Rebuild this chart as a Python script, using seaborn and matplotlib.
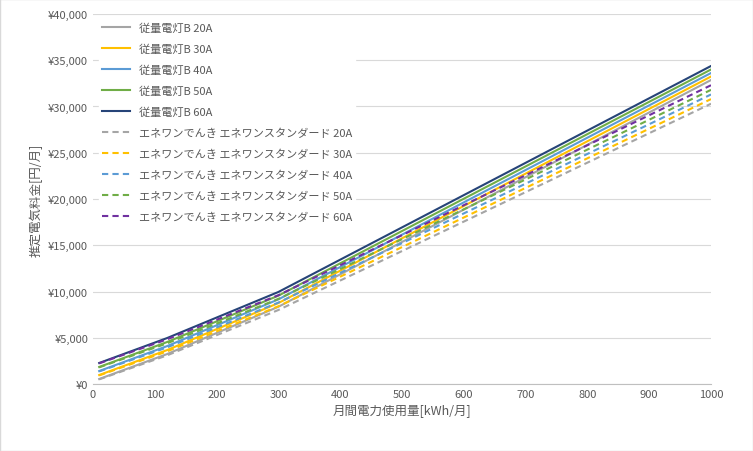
import matplotlib
matplotlib.use("Agg")
import matplotlib.pyplot as plt
import seaborn as sns
import pandas as pd
from matplotlib.ticker import FuncFormatter

plt.rcParams["font.family"] = ["Noto Sans CJK JP", "DejaVu Sans"]

usage = [10, 120, 300, 1000]
series_names = ["従量電灯B 20A", "従量電灯B 30A", "従量電灯B 40A", "従量電灯B 50A", "従量電灯B 60A",
                "エネワンでんき エネワンスタンダード 20A", "エネワンでんき エネワンスタンダード 30A",
                "エネワンでんき エネワンスタンダード 40A", "エネワンでんき エネワンスタンダード 50A",
                "エネワンでんき エネワンスタンダード 60A"]
tepco_20 = [540, 3240, 8350, 32860]
tepco_30 = [970, 3670, 8750, 33240]
tepco_40 = [1400, 4100, 9150, 33620]
tepco_50 = [1840, 4540, 9550, 34000]
tepco_60 = [2270, 4970, 9950, 34380]
enne_20 = [500, 3100, 8000, 30300]
enne_30 = [930, 3530, 8400, 30800]
enne_40 = [1360, 3960, 8800, 31300]
enne_50 = [1800, 4400, 9200, 31800]
enne_60 = [2230, 4830, 9600, 32300]
values = [tepco_20, tepco_30, tepco_40, tepco_50, tepco_60, enne_20, enne_30, enne_40, enne_50, enne_60]
colors = ["#a5a5a5", "#ffc000", "#5b9bd5", "#70ad47", "#264478",
          "#a5a5a5", "#ffc000", "#5b9bd5", "#70ad47", "#7030a0"]

rows = []
for name, vals in zip(series_names, values):
    for x, y in zip(usage, vals):
        rows.append({"usage": x, "cost": y, "series": name})
df = pd.DataFrame(rows)

fig = plt.figure(figsize=(7.53, 4.52), dpi=100)
ax = fig.add_axes([93/753, 1-385/452, (711-93)/753, (385-15)/452])
for i, name in enumerate(series_names):
    sub = df[df["series"] == name]
    sns.lineplot(data=sub, x="usage", y="cost", ax=ax, color=colors[i], lw=1.5,
                 linestyle="-" if i < 5 else (0, (3, 2)), label=name)

ax.set_xlim(0, 1000)
ax.set_ylim(0, 40000)
ax.set_xticks(range(0, 1001, 100))
ax.set_yticks(range(0, 40001, 5000))
ax.yaxis.set_major_formatter(FuncFormatter(lambda v, p: f"¥{int(v):,}"))
ax.grid(axis="y", color="#d9d9d9", lw=0.8)
ax.set_axisbelow(True)
for s in ["top", "right", "left"]:
    ax.spines[s].set_visible(False)
ax.spines["bottom"].set_color("#bfbfbf")
ax.tick_params(length=0, labelsize=8, colors="#595959")
ax.set_xlabel("月間電力使用量[kWh/月]", fontsize=9, color="#595959")
ax.set_ylabel("推定電気料金[円/月]", fontsize=9, color="#595959")
leg = ax.legend(loc="upper left", bbox_to_anchor=(0.0, 1.0), frameon=True, fontsize=8,
                labelspacing=0.95, handlelength=2.5, borderpad=0.3)
leg.get_frame().set_edgecolor("white")
leg.get_frame().set_alpha(1)
for t in leg.get_texts():
    t.set_color("#595959")
fig.patches.append(plt.Rectangle((0, 0), 1, 1, transform=fig.transFigure, fill=False,
                                 edgecolor="#d9d9d9", lw=1))
fig.savefig("out.png", dpi=100)
